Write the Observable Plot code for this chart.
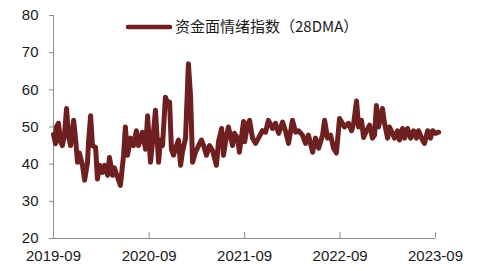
<!DOCTYPE html>
<html><head><meta charset="utf-8">
<script src="https://cdn.jsdelivr.net/npm/d3@7"></script>
<script src="https://cdn.jsdelivr.net/npm/@observablehq/plot@0.6"></script>
<style>body{margin:0;background:#fff}#chart{position:relative;width:489px;height:271px}</style>
</head><body><div id="chart"></div>
<script>
const seriesName = "资金面情绪指数（28DMA）";
const dates = ["2019-09-01","2019-09-09","2019-09-12","2019-09-20","2019-09-28","2019-10-05","2019-10-13","2019-10-21","2019-10-28","2019-11-05","2019-11-17","2019-11-24","2019-12-02","2019-12-09","2019-12-21","2019-12-29","2020-01-09","2020-01-13","2020-01-21","2020-01-28","2020-02-09","2020-02-16","2020-02-24","2020-03-06","2020-03-14","2020-03-26","2020-04-02","2020-04-14","2020-04-21","2020-05-03","2020-05-14","2020-05-26","2020-06-02","2020-06-10","2020-06-22","2020-07-03","2020-07-14","2020-07-22","2020-08-06","2020-08-18","2020-08-26",
"2020-09-06","2020-09-14","2020-09-25","2020-10-07","2020-10-14","2020-10-22","2020-11-02","2020-11-14","2020-11-18","2020-11-25","2020-12-03","2020-12-14","2020-12-22","2020-12-30","2021-01-06","2021-01-18","2021-01-29","2021-02-06","2021-02-14","2021-02-25","2021-03-09","2021-03-20","2021-03-28","2021-04-08","2021-04-20","2021-05-01","2021-05-16","2021-05-24","2021-06-05","2021-06-12","2021-06-24","2021-07-01","2021-07-17","2021-07-24","2021-08-05","2021-08-12","2021-08-28",
"2021-09-01","2021-09-12","2021-09-20","2021-10-01","2021-10-13","2021-10-24","2021-11-08","2021-11-20","2021-12-01","2021-12-17","2021-12-28","2022-01-09","2022-01-24","2022-02-04","2022-02-16","2022-03-03","2022-03-15","2022-03-26","2022-04-10","2022-04-22","2022-05-03","2022-05-19","2022-05-30","2022-06-11","2022-06-26","2022-07-04","2022-07-15","2022-07-27","2022-08-07","2022-08-18","2022-08-30",
"2022-09-10","2022-09-18","2022-10-03","2022-10-15","2022-10-23","2022-11-03","2022-11-11","2022-11-22","2022-11-30","2022-12-11","2022-12-23","2023-01-03","2023-01-11","2023-01-18","2023-01-26","2023-02-10","2023-02-18","2023-03-02","2023-03-09","2023-03-21","2023-03-28","2023-04-09","2023-04-16","2023-04-28","2023-05-06","2023-05-17","2023-05-29","2023-06-09","2023-06-20","2023-06-28","2023-07-13","2023-07-21","2023-08-02","2023-08-13","2023-08-21","2023-09-01","2023-09-13"];
const values = [48,45.5,50,51,46,45,48,55,47.8,45,51.8,47,40.5,43,39.7,35.7,40.5,46,53,45,44.5,36,39.7,37.8,39.7,37,41.8,37,39,36.5,34.3,42.4,50,42.4,47,45,49,45,48.6,44,53,
40.5,46,54.5,40.5,46.5,45,58,55.8,56.7,44,42.4,45,46.5,39.7,43.2,47,67,58.5,40.5,43.2,45,46.5,45,42.4,45,43.7,39.7,46,49.6,42.4,47.8,50,45,48.3,47,43.2,51.5,
46,50.5,51.8,47,45.6,47,49,48.6,51.8,49.6,51,48.3,51.3,49,45.6,51.8,48.6,49,47.8,45.6,47.8,43.2,47,44.3,47.8,51.8,47,47.8,44.3,43,52.3,
51,50,51,49,51,57,50,51.8,47.2,49,50.5,47,47.8,55.8,50,55,51,47,50,48.3,47,49,46.5,49.6,47,49.6,47,49,47,49,46.5,45.6,49,47,49,48.3,48.6];
const xTickLabels = ["2019-09","2020-09","2021-09","2022-09","2023-09"];
const yTicks = [20,30,40,50,60,70,80];

const data = dates.map((d,i)=>({date:new Date(d+"T00:00:00Z"), value:values[i]}));
const xTicks = xTickLabels.map(s=>new Date(s+"-01T00:00:00Z"));
const lineColor = "#6e1f1f";
const axisColor = "#8c8c8c";

const chart = Plot.plot({
  width:489, height:271,
  marginLeft:53, marginRight:54, marginTop:15, marginBottom:33,
  style:{fontFamily:"'Liberation Sans', Arial, sans-serif", fontSize:"15px", color:"#1a1a1a", background:"#fff"},
  x:{type:"utc", domain:[xTicks[0], xTicks[xTicks.length-1]]},
  y:{domain:[20,80]},
  marks:[
    Plot.axisY({ticks:yTicks, tickSize:4, tickPadding:11, stroke:axisColor, label:null, tickFormat:d=>String(d)}),
    Plot.axisX({ticks:xTicks, tickSize:0, tickPadding:12, label:null, tickFormat:d=>d3.utcFormat("%Y-%m")(d)}),
    Plot.ruleX(xTicks, {y1:20, y2:21.6, stroke:axisColor}),
    Plot.ruleY([20], {x1:xTicks[0], x2:xTicks[xTicks.length-1], stroke:axisColor}),
    Plot.ruleX([xTicks[0]], {y1:20, y2:80, stroke:axisColor}),
    Plot.lineY(data, {x:"date", y:"value", stroke:lineColor, strokeWidth:5, strokeLinejoin:"round"})
  ]
});
document.getElementById("chart").appendChild(chart);

// legend inside svg
const svg = d3.select(chart);
const lg = svg.append("g").attr("transform","translate(128,27)");
lg.append("line").attr("x1",0).attr("x2",42).attr("y1",0).attr("y2",0)
  .attr("stroke",lineColor).attr("stroke-width",4.5).attr("stroke-linecap","round");
lg.append("text").attr("x",47).attr("y",0).attr("dy","0.35em").attr("text-anchor","start")
  .attr("font-family","'Noto Sans CJK SC', sans-serif").attr("font-size",15).attr("fill","#1a1a1a")
  .text(seriesName);
</script>
</body></html>
